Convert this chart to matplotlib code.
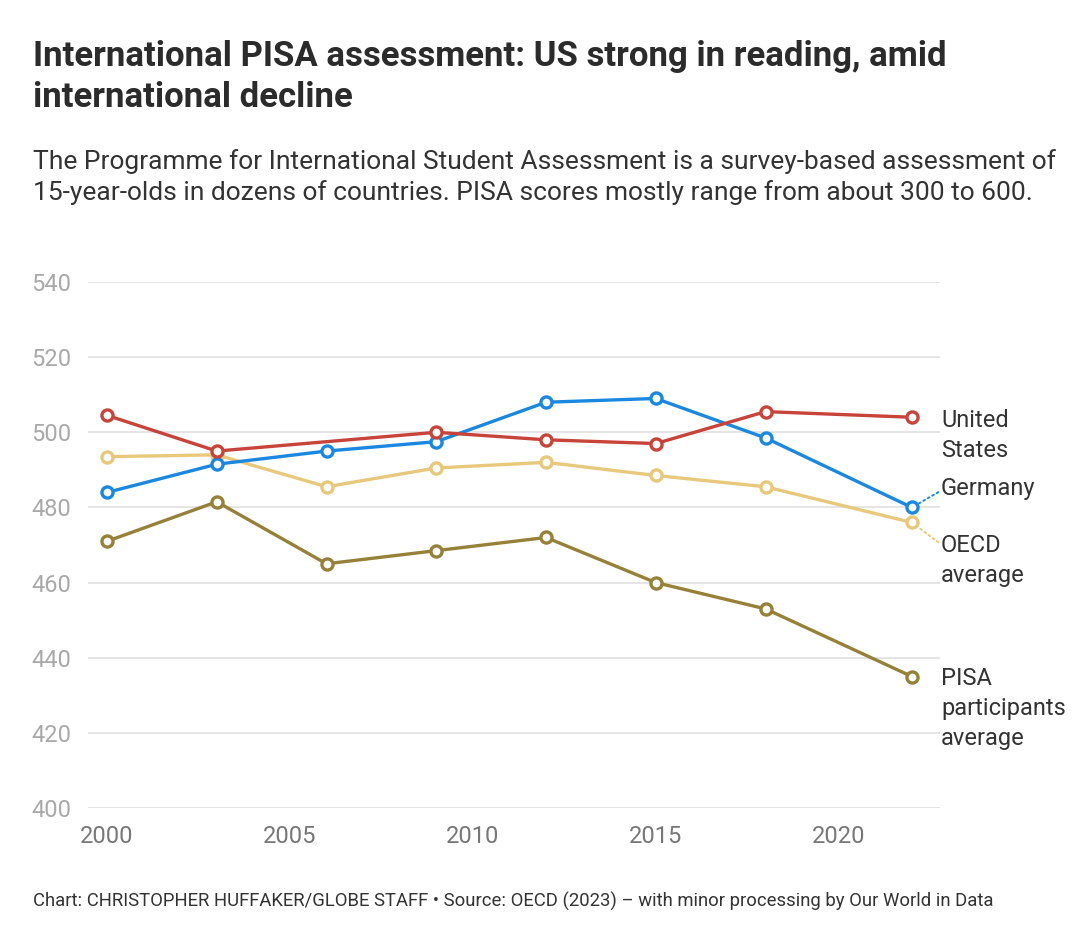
import matplotlib.pyplot as plt

# PISA reading scores
years = [2000, 2003, 2006, 2009, 2012, 2015, 2018, 2022]
us_years = [2000, 2003, 2009, 2012, 2015, 2018, 2022]
us = [504.5, 495, 500, 498, 497, 505.5, 504]
germany = [484, 491.5, 495, 497.5, 508, 509, 498.5, 480]
oecd = [493.5, 494, 485.5, 490.5, 492, 488.5, 485.5, 476]
pisa = [471, 481.5, 465, 468.5, 472, 460, 453, 435]

yticks = [400, 420, 440, 460, 480, 500, 520, 540]
xticks = [2000, 2005, 2010, 2015, 2020]

c_us = '#c8433a'
c_de = '#1a88e1'
c_oecd = '#e8c97c'
c_pisa = '#978139'

plt.rcParams['font.family'] = ['Roboto', 'DejaVu Sans']

fig = plt.figure(figsize=(10.9, 9.3), dpi=100)
ax = fig.add_axes([88 / 1090, 1 - 808 / 930, (940 - 88) / 1090, (808 - 282) / 930])

style = dict(lw=2.4, marker='o', ms=8, mfc='white', mew=2.4, clip_on=False, zorder=3)
ax.plot(years, pisa, color=c_pisa, **style)
ax.plot(years, oecd, color=c_oecd, **style)
ax.plot(years, germany, color=c_de, **style)
ax.plot(us_years, us, color=c_us, **style)

ax.set_xlim(1999.48, 2022.77)
ax.set_ylim(400, 540)
ax.set_yticks(yticks)
ax.set_xticks(xticks)
ax.grid(axis='y', color='#e3e3e3', lw=1.3, zorder=0)
for s in ax.spines.values():
    s.set_visible(False)
ax.tick_params(length=0)
ax.tick_params(axis='y', labelsize=17, labelcolor='#a9a9a9', pad=12)
ax.tick_params(axis='x', labelsize=17, labelcolor='#777777', pad=12)

# line labels
lx = 2022.8
lbl = dict(fontsize=17, color='#333333', ha='left', linespacing=1.4)
ax.text(lx, 506.3, 'United\nStates', va='top', clip_on=False, **lbl)
ax.annotate('Germany', xy=(2022, 480), xytext=(lx, 485.1), va='center',
            arrowprops=dict(arrowstyle='-', color=c_de, ls=':', lw=1.4,
                            shrinkA=0, shrinkB=6, relpos=(0, 0.4)), **lbl)
ax.annotate('OECD\naverage', xy=(2022, 476), xytext=(lx, 473), va='top',
            arrowprops=dict(arrowstyle='-', color=c_oecd, ls=':', lw=1.4,
                            shrinkA=0, shrinkB=6, relpos=(0, 0.8)), **lbl)
ax.text(lx, 437.6, 'PISA\nparticipants\naverage', va='top', clip_on=False, **lbl)

fig.text(33 / 1090, 1 - 40 / 930,
         'International PISA assessment: US strong in reading, amid\ninternational decline',
         fontsize=25, fontweight='bold', color='#2b2b2b', va='top', ha='left',
         linespacing=1.3)
fig.text(33 / 1090, 1 - 149 / 930,
         'The Programme for International Student Assessment is a survey-based assessment of\n'
         '15-year-olds in dozens of countries. PISA scores mostly range from about 300 to 600.',
         fontsize=19, color='#333333', va='top', ha='left', linespacing=1.3)
fig.text(33 / 1090, 1 - 901 / 930,
         'Chart: CHRISTOPHER HUFFAKER/GLOBE STAFF \u2022 Source: OECD (2023) \u2013 with minor processing by Our World in Data',
         fontsize=13.3, color='#333333', va='center', ha='left')

fig.savefig('out.png', dpi=100)
